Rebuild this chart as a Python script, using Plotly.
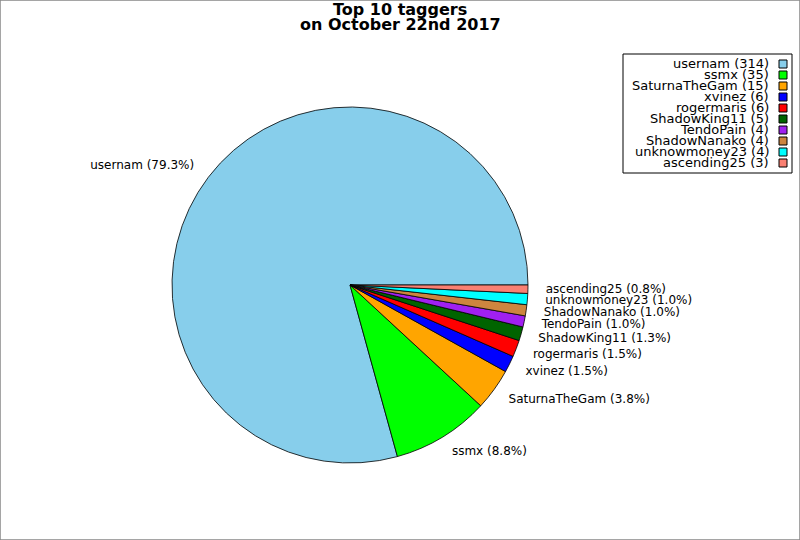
import math
import plotly.graph_objects as go

# data
taggers = ['usernam', 'ssmx', 'SaturnaTheGam', 'xvinez', 'rogermaris',
           'ShadowKing11', 'TendoPain', 'ShadowNanako', 'unknowmoney23', 'ascending25']
counts = [314, 35, 15, 6, 6, 5, 4, 4, 4, 3]
colors = ['#87CEEB', '#00FF00', '#FFA500', '#0000FF', '#FF0000',
          '#006400', '#A020F0', '#CD853F', '#00FFFF', '#FA8072']
title_lines = ['Top 10 taggers', 'on October 22nd 2017']

W, H = 800, 540
FONT = 'DejaVu Sans'
CX, CY, R = 350, 285, 178  # pie centre / radius in pixels


def px(x):
    return x / W


def py(y):
    return 1 - y / H


total = sum(counts)

fig = go.Figure()

# plotly's counterclockwise pie puts the first slice *before* the rotation line,
# so shift by the first slice to start it at 3 o'clock like matplotlib does
fig.add_trace(go.Pie(
    labels=taggers,
    values=counts,
    sort=False,
    direction='counterclockwise',
    rotation=90 - 360 * counts[0] / total,
    marker=dict(colors=colors, line=dict(color='black', width=0.8)),
    textinfo='none',
    hoverinfo='skip',
    showlegend=False,
    domain=dict(x=[px(CX - R), px(CX + R)], y=[py(CY + R), py(CY - R)]),
))

# slice labels, matplotlib style: at 1.1 radius on each slice's mid angle
lx, ly, ltext, lpos = [], [], [], []
cum = 0
for name, c in zip(taggers, counts):
    mid = 2 * math.pi * (cum + c / 2) / total
    cum += c
    x, y = 1.1 * math.cos(mid), 1.1 * math.sin(mid)
    lx.append(x)
    ly.append(y)
    ltext.append(f'{name} ({100 * c / total:.1f}%)')
    lpos.append('middle right' if x > 0 else 'middle left')

fig.add_trace(go.Scatter(
    x=lx, y=ly, mode='text', text=ltext, textposition=lpos,
    textfont=dict(family=FONT, size=12, color='black'),
    cliponaxis=False, hoverinfo='skip', showlegend=False,
))

# axes share the pie's scale (1 unit = radius), wide enough for the labels
XR, YR = 1.5, 1.2

# legend box, text right-aligned with swatches on the right
shapes = [
    dict(type='rect', xref='paper', yref='paper', x0=0, x1=1, y0=0, y1=1,
         line=dict(color='#888888', width=1.5)),
    dict(type='rect', xref='paper', yref='paper', x0=px(623), x1=px(792),
         y0=py(173), y1=py(54), line=dict(color='black', width=1)),
]
annotations = []
for i, (name, c, col) in enumerate(zip(taggers, counts, colors)):
    yc = 64 + i * 11
    annotations.append(dict(
        text=f'{name} ({c})', xref='paper', yref='paper',
        x=px(771), y=py(yc), xanchor='right', yanchor='middle', showarrow=False,
        font=dict(family=FONT, size=13, color='black'),
    ))
    shapes.append(dict(type='rect', xref='paper', yref='paper',
                       x0=px(779), x1=px(787), y0=py(yc + 4), y1=py(yc - 4),
                       fillcolor=col, line=dict(color='black', width=1)))

for i, t in enumerate(title_lines):
    annotations.append(dict(
        text=f'<b>{t}</b>', xref='paper', yref='paper',
        x=0.5, y=py(10 + i * 14.5), xanchor='center', yanchor='middle', showarrow=False,
        font=dict(family=FONT, size=16, color='black'),
    ))

fig.update_layout(
    width=W, height=H,
    margin=dict(l=0, r=0, t=0, b=0),
    paper_bgcolor='white', plot_bgcolor='white',
    xaxis=dict(domain=[px(CX - XR * R), px(CX + XR * R)], range=[-XR, XR],
               visible=False, fixedrange=True),
    yaxis=dict(domain=[py(CY + YR * R), py(CY - YR * R)], range=[-YR, YR],
               visible=False, fixedrange=True),
    shapes=shapes,
    annotations=annotations,
    showlegend=False,
)

fig.write_html('out.html', config={'displayModeBar': False},
               post_script="document.body.style.margin='0';")
